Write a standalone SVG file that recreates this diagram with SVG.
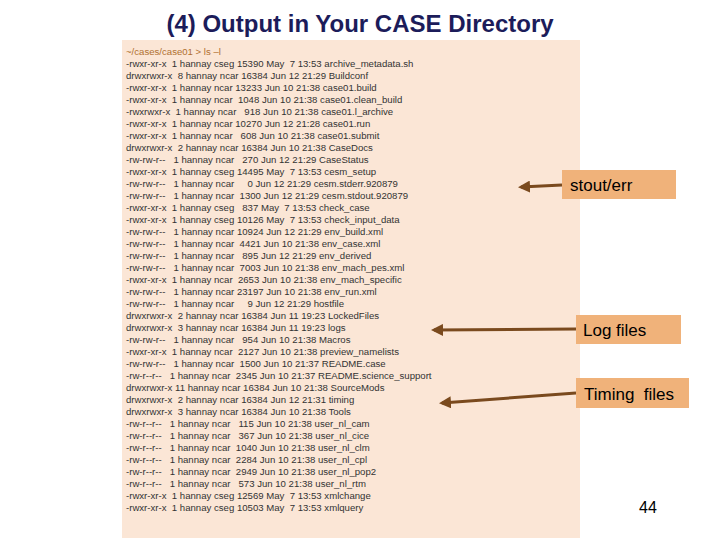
<svg xmlns="http://www.w3.org/2000/svg" width="720" height="540" viewBox="0 0 720 540">
<style>
.t{font-family:"Liberation Sans",Arial,sans-serif;font-size:9.6px;fill:#333;white-space:pre}
.lb{fill:#f0b27a}
.lt{font-family:"Liberation Sans",Arial,sans-serif;font-size:17px;fill:#000;white-space:pre}
.ar{stroke:#7a4a1e;stroke-width:3;fill:none;marker-end:url(#ah)}
</style>
<defs><marker id="ah" markerWidth="4" markerHeight="4" refX="3" refY="2" orient="auto"><path d="M0,0 L4,2 L0,4 Z" fill="#7a4a1e"/></marker></defs>
<rect width="720" height="540" fill="#fff"/>
<text x="360" y="32" text-anchor="middle" font-family="Liberation Sans,Arial,sans-serif" font-size="24" font-weight="bold" fill="#1c1c5a">(4) Output in Your CASE Directory</text>
<g id="listing" xml:space="preserve">
<rect x="122" y="40" width="458" height="498" fill="#fbe6d6"/>
<text class="t" x="126" y="55" style="fill:#b07030">~/cases/case01 &gt; ls –l</text>
<text class="t" x="126" y="67">-rwxr-xr-x  1 hannay cseg 15390 May  7 13:53 archive_metadata.sh</text>
<text class="t" x="126" y="79">drwxrwxr-x  8 hannay ncar 16384 Jun 12 21:29 Buildconf</text>
<text class="t" x="126" y="91">-rwxr-xr-x  1 hannay ncar 13233 Jun 10 21:38 case01.build</text>
<text class="t" x="126" y="103">-rwxr-xr-x  1 hannay ncar  1048 Jun 10 21:38 case01.clean_build</text>
<text class="t" x="126" y="115">-rwxrwxr-x  1 hannay ncar   918 Jun 10 21:38 case01.l_archive</text>
<text class="t" x="126" y="127">-rwxr-xr-x  1 hannay ncar 10270 Jun 12 21:28 case01.run</text>
<text class="t" x="126" y="139">-rwxr-xr-x  1 hannay ncar   608 Jun 10 21:38 case01.submit</text>
<text class="t" x="126" y="151">drwxrwxr-x  2 hannay ncar 16384 Jun 10 21:38 CaseDocs</text>
<text class="t" x="126" y="163">-rw-rw-r--   1 hannay ncar   270 Jun 12 21:29 CaseStatus</text>
<text class="t" x="126" y="175">-rwxr-xr-x  1 hannay cseg 14495 May  7 13:53 cesm_setup</text>
<text class="t" x="126" y="187">-rw-rw-r--   1 hannay ncar     0 Jun 12 21:29 cesm.stderr.920879</text>
<text class="t" x="126" y="199">-rw-rw-r--   1 hannay ncar  1300 Jun 12 21:29 cesm.stdout.920879</text>
<text class="t" x="126" y="211">-rwxr-xr-x  1 hannay cseg   837 May  7 13:53 check_case</text>
<text class="t" x="126" y="223">-rwxr-xr-x  1 hannay cseg 10126 May  7 13:53 check_input_data</text>
<text class="t" x="126" y="235">-rw-rw-r--   1 hannay ncar 10924 Jun 12 21:29 env_build.xml</text>
<text class="t" x="126" y="247">-rw-rw-r--   1 hannay ncar  4421 Jun 10 21:38 env_case.xml</text>
<text class="t" x="126" y="259">-rw-rw-r--   1 hannay ncar   895 Jun 12 21:29 env_derived</text>
<text class="t" x="126" y="271">-rw-rw-r--   1 hannay ncar  7003 Jun 10 21:38 env_mach_pes.xml</text>
<text class="t" x="126" y="283">-rwxr-xr-x  1 hannay ncar  2653 Jun 10 21:38 env_mach_specific</text>
<text class="t" x="126" y="295">-rw-rw-r--   1 hannay ncar 23197 Jun 10 21:38 env_run.xml</text>
<text class="t" x="126" y="307">-rw-rw-r--   1 hannay ncar     9 Jun 12 21:29 hostfile</text>
<text class="t" x="126" y="319">drwxrwxr-x  2 hannay ncar 16384 Jun 11 19:23 LockedFiles</text>
<text class="t" x="126" y="331">drwxrwxr-x  3 hannay ncar 16384 Jun 11 19:23 logs</text>
<text class="t" x="126" y="343">-rw-rw-r--   1 hannay ncar   954 Jun 10 21:38 Macros</text>
<text class="t" x="126" y="355">-rwxr-xr-x  1 hannay ncar  2127 Jun 10 21:38 preview_namelists</text>
<text class="t" x="126" y="367">-rw-rw-r--   1 hannay ncar  1500 Jun 10 21:37 README.case</text>
<text class="t" x="126" y="379">-rw-r--r--   1 hannay ncar  2345 Jun 10 21:37 README.science_support</text>
<text class="t" x="126" y="391">drwxrwxr-x 11 hannay ncar 16384 Jun 10 21:38 SourceMods</text>
<text class="t" x="126" y="403">drwxrwxr-x  2 hannay ncar 16384 Jun 12 21:31 timing</text>
<text class="t" x="126" y="415">drwxrwxr-x  3 hannay ncar 16384 Jun 10 21:38 Tools</text>
<text class="t" x="126" y="427">-rw-r--r--   1 hannay ncar   115 Jun 10 21:38 user_nl_cam</text>
<text class="t" x="126" y="439">-rw-r--r--   1 hannay ncar   367 Jun 10 21:38 user_nl_cice</text>
<text class="t" x="126" y="451">-rw-r--r--   1 hannay ncar  1040 Jun 10 21:38 user_nl_clm</text>
<text class="t" x="126" y="463">-rw-r--r--   1 hannay ncar  2284 Jun 10 21:38 user_nl_cpl</text>
<text class="t" x="126" y="475">-rw-r--r--   1 hannay ncar  2949 Jun 10 21:38 user_nl_pop2</text>
<text class="t" x="126" y="487">-rw-r--r--   1 hannay ncar   573 Jun 10 21:38 user_nl_rtm</text>
<text class="t" x="126" y="499">-rwxr-xr-x  1 hannay cseg 12569 May  7 13:53 xmlchange</text>
<text class="t" x="126" y="511">-rwxr-xr-x  1 hannay cseg 10503 May  7 13:53 xmlquery</text>
</g>
<g id="connectors">
<line class="ar" x1="562" y1="185" x2="521" y2="187"/>
<line class="ar" x1="576" y1="329" x2="434" y2="330"/>
<line class="ar" x1="576" y1="393" x2="442" y2="403"/>
</g>
<g id="stouterr"><rect class="lb" x="562" y="170" width="114" height="29"/><text class="lt" x="570" y="191">stout/err</text></g>
<g id="logfiles"><rect class="lb" x="576" y="315" width="105" height="29"/><text class="lt" x="583" y="336">Log files</text></g>
<g id="timingfiles"><rect class="lb" x="576" y="378" width="113" height="30"/><text class="lt" x="584" y="400">Timing  files</text></g>
<text x="648" y="513" text-anchor="middle" font-family="Liberation Sans,Arial,sans-serif" font-size="16" fill="#000">44</text>
</svg>
